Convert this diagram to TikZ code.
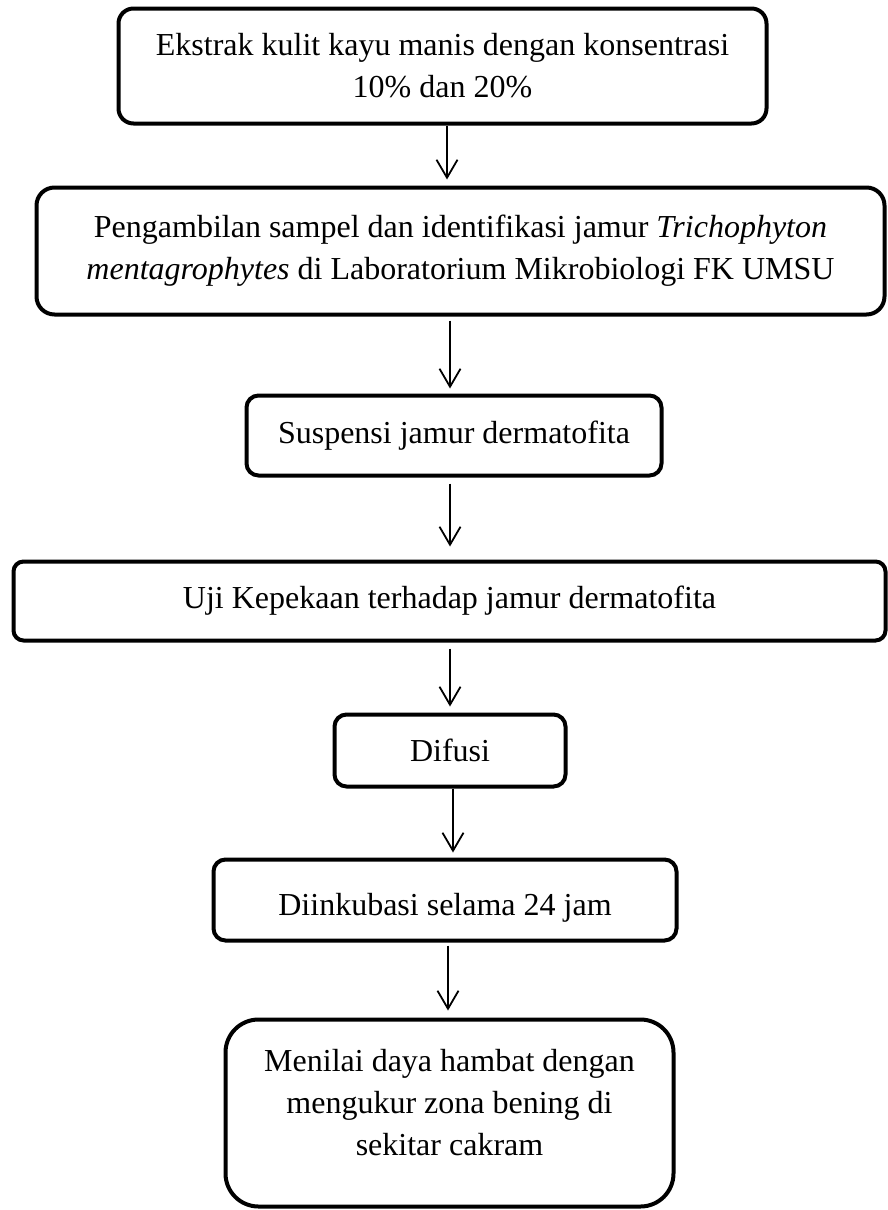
\documentclass[tikz,border=0pt]{standalone}
\usepackage{fontspec}
\setmainfont{Liberation Serif}
\usetikzlibrary{arrows.meta}
\tikzset{
  box/.style={draw=black, line width=4pt, fill=white, inner sep=0pt, align=center,
    font=\fontsize{32}{42}\selectfont},
  arr/.style={draw=black, line width=1.8pt, -{Straight Barb[length=18pt,width=21pt,line width=1.8pt]}}
}
\begin{document}
\begin{tikzpicture}[x=1pt,y=-1pt]
\useasboundingbox (0,0) rectangle (888,1210);
\node[box, rounded corners=15pt, minimum width=648pt, minimum height=115pt] (b1) at (442.5,66)
  {Ekstrak kulit kayu manis dengan konsentrasi\\10\% dan 20\%};
\node[box, rounded corners=18pt, minimum width=848pt, minimum height=127pt] (b2) at (460.5,251)
  {Pengambilan sampel dan identifikasi jamur \textit{Trichophyton}\\\textit{mentagrophytes} di Laboratorium Mikrobiologi FK UMSU};
\node[box, rounded corners=12pt, minimum width=415pt, minimum height=80pt] (b3) at (454,435.5)
  {Suspensi jamur dermatofita};
\node[box, rounded corners=10pt, minimum width=872pt, minimum height=79pt] (b4) at (449.5,601)
  {Uji Kepekaan terhadap jamur dermatofita};
\node[box, rounded corners=12pt, minimum width=231pt, minimum height=72pt] (b5) at (450,750.5)
  {Difusi};
\node[box, rounded corners=12pt, minimum width=463pt, minimum height=81pt] (b6) at (445,900)
  {\rule{0pt}{37pt}Diinkubasi selama 24 jam};
\node[box, rounded corners=33pt, minimum width=448pt, minimum height=187pt] (b7) at (449.5,1113)
  {Menilai daya hambat dengan\\mengukur zona bening di\\sekitar cakram\rule[-22pt]{0pt}{0pt}};
\draw[arr] ([xshift=4.5pt]b1.south) -- ([xshift=-13.5pt,yshift=6pt]b2.north);
\draw[arr] ([xshift=-10.5pt,yshift=-4pt]b2.south) -- ([xshift=-4pt,yshift=5pt]b3.north);
\draw[arr] ([xshift=-4pt,yshift=-6pt]b3.south) -- ([xshift=0.5pt,yshift=13pt]b4.north);
\draw[arr] ([xshift=0.5pt,yshift=-6pt]b4.south) -- ([yshift=6pt]b5.north);
\draw[arr] ([xshift=3pt]b5.south) -- ([xshift=8pt,yshift=5pt]b6.north);
\draw[arr] ([xshift=3pt,yshift=-3pt]b6.south) -- ([xshift=-1.5pt,yshift=7pt]b7.north);
\end{tikzpicture}
\end{document}
